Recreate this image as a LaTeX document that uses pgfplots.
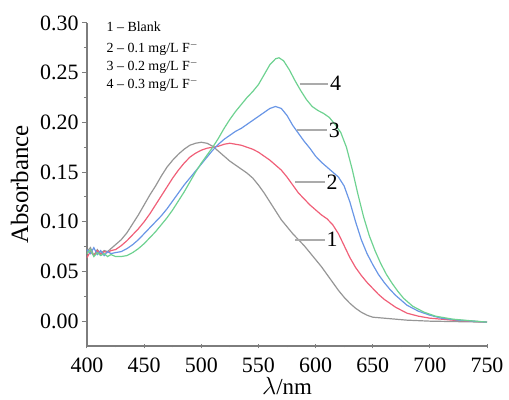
\documentclass[border=0pt]{standalone}
\usepackage{pgfplots}
\pgfplotsset{compat=1.18}
\usepackage{fontspec}
\setmainfont{Liberation Serif}
\definecolor{cgray}{RGB}{150,150,150}
\definecolor{cred}{RGB}{240,95,120}
\definecolor{cblue}{RGB}{105,150,230}
\definecolor{cgreen}{RGB}{110,210,145}
\definecolor{caxis}{RGB}{125,125,125}
\begin{document}
\begin{tikzpicture}
\begin{axis}[
  scale only axis, width=400bp, height=323bp,
  xmin=400, xmax=750, ymin=-0.025, ymax=0.30,
  axis x line*=bottom, axis y line*=left,
  axis line style={caxis, line width=1.2bp, -},
  xtick={400,450,...,750}, ytick={0,0.05,...,0.30},
  minor x tick num=1, minor y tick num=1,
  tick style={caxis, line width=1bp},
  major tick length=5bp, minor tick length=3bp,
  xtick align=center, ytick align=outside,
  /pgf/number format/assume math mode=true,
  yticklabel style={/pgf/number format/fixed, /pgf/number format/fixed zerofill, /pgf/number format/precision=2, font=\fontsize{22}{24}\selectfont},
  xticklabel style={/pgf/number format/1000 sep={}, font=\fontsize{22}{24}\selectfont, yshift=-6bp},
  scaled y ticks=false,
  xlabel={$\lambda$/nm}, ylabel={Absorbance},
  xlabel style={font=\fontsize{23}{25}\selectfont, yshift=2bp},
  ylabel style={font=\fontsize{25}{27}\selectfont, yshift=5bp},
  clip=false,
]
\addplot[cgray, line width=1.2bp] coordinates {
(400,0.070)(403,0.074)(406,0.066)(409,0.072)(412,0.068)(415,0.071)(418,0.070)(421,0.073)(425,0.077)(430,0.082)(435,0.089)(440,0.098)(445,0.107)(450,0.117)(455,0.127)(460,0.136)(465,0.146)(470,0.155)(475,0.162)(480,0.168)(485,0.173)(490,0.177)(495,0.179)(500,0.180)(505,0.179)(510,0.176)(515,0.171)(520,0.166)(525,0.161)(530,0.157)(535,0.153)(540,0.149)(545,0.144)(550,0.137)(555,0.129)(560,0.120)(565,0.111)(570,0.102)(575,0.095)(580,0.088)(585,0.082)(590,0.076)(595,0.069)(600,0.062)(605,0.055)(610,0.047)(615,0.039)(620,0.031)(625,0.024)(630,0.018)(635,0.013)(640,0.009)(645,0.006)(650,0.004)(660,0.003)(680,0.001)(700,0.000)(750,-0.001)};
\addplot[cred, line width=1.2bp] coordinates {
(400,0.064)(403,0.070)(406,0.066)(409,0.071)(412,0.067)(415,0.070)(418,0.069)(421,0.071)(425,0.072)(430,0.076)(435,0.081)(440,0.087)(445,0.093)(450,0.100)(455,0.108)(460,0.117)(465,0.126)(470,0.135)(475,0.144)(480,0.152)(485,0.159)(490,0.165)(495,0.169)(500,0.172)(505,0.174)(510,0.175)(515,0.176)(520,0.178)(525,0.179)(530,0.178)(535,0.177)(540,0.175)(545,0.173)(550,0.170)(555,0.166)(560,0.162)(565,0.157)(570,0.152)(575,0.145)(580,0.137)(585,0.129)(590,0.123)(595,0.117)(600,0.112)(605,0.107)(610,0.103)(615,0.097)(620,0.088)(625,0.076)(630,0.064)(635,0.054)(640,0.046)(645,0.039)(650,0.033)(655,0.027)(660,0.022)(665,0.018)(670,0.014)(680,0.008)(690,0.005)(700,0.003)(720,0.001)(750,-0.001)};
\addplot[cblue, line width=1.2bp] coordinates {
(400,0.072)(403,0.068)(406,0.074)(409,0.067)(412,0.071)(415,0.066)(418,0.070)(421,0.068)(425,0.069)(430,0.070)(435,0.073)(440,0.077)(445,0.082)(450,0.088)(455,0.094)(460,0.100)(465,0.106)(470,0.113)(475,0.121)(480,0.129)(485,0.137)(490,0.144)(495,0.151)(500,0.158)(505,0.165)(510,0.172)(515,0.178)(520,0.183)(525,0.187)(530,0.191)(535,0.194)(540,0.198)(545,0.202)(550,0.206)(555,0.210)(560,0.214)(565,0.216)(570,0.214)(575,0.207)(580,0.197)(585,0.189)(590,0.181)(595,0.174)(600,0.166)(605,0.160)(610,0.155)(615,0.150)(620,0.145)(625,0.136)(630,0.120)(635,0.100)(640,0.082)(645,0.068)(650,0.057)(655,0.047)(660,0.039)(665,0.032)(670,0.026)(675,0.021)(680,0.016)(690,0.010)(700,0.006)(710,0.003)(725,0.001)(750,-0.001)};
\addplot[cgreen, line width=1.2bp] coordinates {
(400,0.068)(403,0.072)(406,0.065)(409,0.069)(412,0.066)(415,0.068)(418,0.065)(421,0.067)(425,0.065)(430,0.065)(435,0.066)(440,0.069)(445,0.073)(450,0.078)(455,0.084)(460,0.090)(465,0.097)(470,0.104)(475,0.112)(480,0.121)(485,0.130)(490,0.140)(495,0.150)(500,0.159)(505,0.167)(510,0.175)(515,0.184)(520,0.194)(525,0.203)(530,0.211)(535,0.218)(540,0.225)(545,0.231)(550,0.238)(555,0.248)(560,0.258)(565,0.264)(568,0.265)(572,0.262)(577,0.253)(582,0.242)(587,0.232)(592,0.223)(597,0.216)(602,0.212)(607,0.209)(612,0.205)(617,0.198)(622,0.190)(627,0.175)(632,0.153)(637,0.128)(642,0.105)(647,0.086)(652,0.071)(657,0.058)(662,0.047)(667,0.038)(672,0.030)(677,0.023)(685,0.015)(695,0.009)(705,0.005)(720,0.002)(750,-0.001)};
% callouts
\draw[cgray!80, line width=1.8bp] (axis cs:586,0.239) -- (axis cs:611,0.239) node[anchor=west, black, inner sep=1bp, font=\fontsize{22}{24}\selectfont] {4};
\draw[cgray!80, line width=1.8bp] (axis cs:584,0.192) -- (axis cs:610,0.192) node[anchor=west, black, inner sep=1bp, font=\fontsize{22}{24}\selectfont] {3};
\draw[cgray!80, line width=1.8bp] (axis cs:582,0.140) -- (axis cs:608,0.140) node[anchor=west, black, inner sep=1bp, font=\fontsize{22}{24}\selectfont] {2};
\draw[cgray!80, line width=1.8bp] (axis cs:582,0.082) -- (axis cs:608,0.082) node[anchor=west, black, inner sep=1bp, font=\fontsize{22}{24}\selectfont] {1};
% legend text
\node[anchor=west, inner sep=0pt, font=\fontsize{14}{16}\selectfont] at (axis cs:417,0.296) {1 -- Blank};
\node[anchor=west, inner sep=0pt, font=\fontsize{14}{16}\selectfont] at (axis cs:417,0.274) {2 -- 0.1 mg/L F$^{-}$};
\node[anchor=west, inner sep=0pt, font=\fontsize{14}{16}\selectfont] at (axis cs:417,0.256) {3 -- 0.2 mg/L F$^{-}$};
\node[anchor=west, inner sep=0pt, font=\fontsize{14}{16}\selectfont] at (axis cs:417,0.238) {4 -- 0.3 mg/L F$^{-}$};
\end{axis}
\pgfresetboundingbox
\path ([shift={(-87bp,-54bp)}]current axis.south west) rectangle ([shift={(22bp,23bp)}]current axis.north east);
\end{tikzpicture}
\end{document}
